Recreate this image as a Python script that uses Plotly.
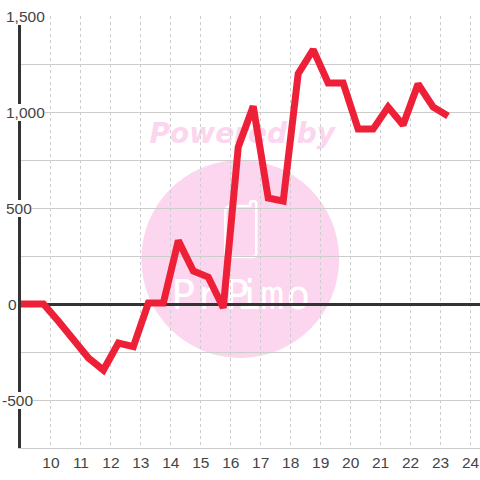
import plotly.graph_objects as go

hours = [8.75, 9.25, 9.75, 10.25, 10.75, 11.25, 11.75, 12.25, 12.75, 13.25, 13.75, 14.25, 14.75, 15.25, 15.75,
         16.25, 16.75, 17.25, 17.75, 18.25, 18.75, 19.25, 19.75, 20.25, 20.75, 21.25, 21.75, 22.25, 22.75, 23.25]
values = [0, 0, 0, -90, -185, -281, -344, -203, -222, 5, 5, 330, 172, 140, -20,
          818, 1030, 552, 536, 1200, 1325, 1151, 1151, 911, 911, 1026, 932, 1146, 1026, 979]
x_ticks = list(range(10, 25))
y_grid = [-750, -500, -250, 0, 250, 500, 750, 1000, 1250, 1500]
y_labels = [(1500, "1,500", 5), (1000, "1,000", 5), (500, "500", 5.5), (0, "0", 7), (-500, "-500", 1)]

W = 480
L, R, T, B = 20.5, 480, 16, 448
PINK = "#fcd5ee"

def px(v):
    return (v - L) / (R - L)

def py(v):
    return (B - v) / (B - T)

fig = go.Figure()
fig.add_trace(go.Scatter(x=hours, y=values, mode="lines", cliponaxis=False,
                         line=dict(color="#ee2038", width=7), hoverinfo="skip", showlegend=False))

icon = [("M", 225, 212), ("Q", 225, 206), ("", 231, 206), ("L", 250, 206), ("L", 250, 203), ("Q", 250, 201), ("", 253, 201),
        ("Q", 256, 201), ("", 256, 204), ("L", 256, 253), ("Q", 256, 257), ("", 252, 257), ("L", 229, 257),
        ("Q", 225, 257), ("", 225, 253), ("Z",)]
icon_path = " ".join(c[0] if len(c) == 1 else f"{c[0]} {px(c[1])} {py(c[2])}" for c in icon)

shapes = [
    dict(type="circle", xref="paper", yref="paper", layer="below",
         x0=px(141), x1=px(339), y0=py(358), y1=py(160), fillcolor=PINK, line=dict(width=0)),
    dict(type="rect", xref="paper", yref="paper", layer="below",
         x0=px(100), x1=px(384), y0=py(156), y1=py(106), fillcolor="rgba(0,0,0,0)", line=dict(width=0),
         label=dict(text="<b><i>Powered by</i></b>", textposition="middle center",
                    font=dict(family="DejaVu Sans", size=28, color=PINK))),
    dict(type="path", xref="paper", yref="paper", layer="below", path=icon_path,
         fillcolor="rgba(0,0,0,0)", line=dict(color="white", width=2.5)),
]
# stencil-like watermark word, one letter at a time so the wide spacing matches
for letter, cx in zip("PrPimo", [183, 207, 237, 249, 272, 298]):
    shapes.append(dict(type="rect", xref="paper", yref="paper", layer="below",
                       x0=px(cx - 16), x1=px(cx + 16), y0=py(316), y1=py(268),
                       fillcolor="rgba(0,0,0,0)", line=dict(width=0),
                       label=dict(text=letter, textposition="middle center",
                                  font=dict(family="DejaVu Sans Mono", size=40, color="white"))))

annotations = [
    dict(x=px(left), y=py(304 - v * 0.192), xref="paper", yref="paper", text=text, showarrow=False,
         xanchor="left", yanchor="middle", bgcolor="white", borderpad=0, borderwidth=0,
         font=dict(family="Liberation Sans", size=15.5, color="#444444"))
    for v, text, left in y_labels
]

fig.update_layout(
    width=W, height=W, autosize=False,
    margin=dict(l=L, r=W - R, t=T, b=W - B, pad=0),
    paper_bgcolor="white", plot_bgcolor="rgba(0,0,0,0)",
    showlegend=False, shapes=shapes, annotations=annotations,
    xaxis=dict(range=[9, 24.3167], tickvals=x_ticks, showgrid=True, griddash="3px,3px",
               gridcolor="#cccccc", gridwidth=1, zeroline=False, showline=True, linecolor="#cccccc", linewidth=1,
               ticks="", tickfont=dict(family="Liberation Sans", size=15.5, color="#444444")),
    yaxis=dict(range=[-750, 1500], tickvals=y_grid, showticklabels=False, showgrid=True,
               gridcolor="#cccccc", gridwidth=1, zeroline=True, zerolinecolor="#333333", zerolinewidth=3,
               showline=True, linecolor="#333333", linewidth=3, ticks=""),
)
fig.write_html("out.html", config=dict(displayModeBar=False),
               post_script="document.body.style.margin='0';document.documentElement.style.overflow='hidden';"
                           "document.querySelectorAll('.scatterlayer path.js-line').forEach(function(p){p.style.strokeLinejoin='miter';});")
